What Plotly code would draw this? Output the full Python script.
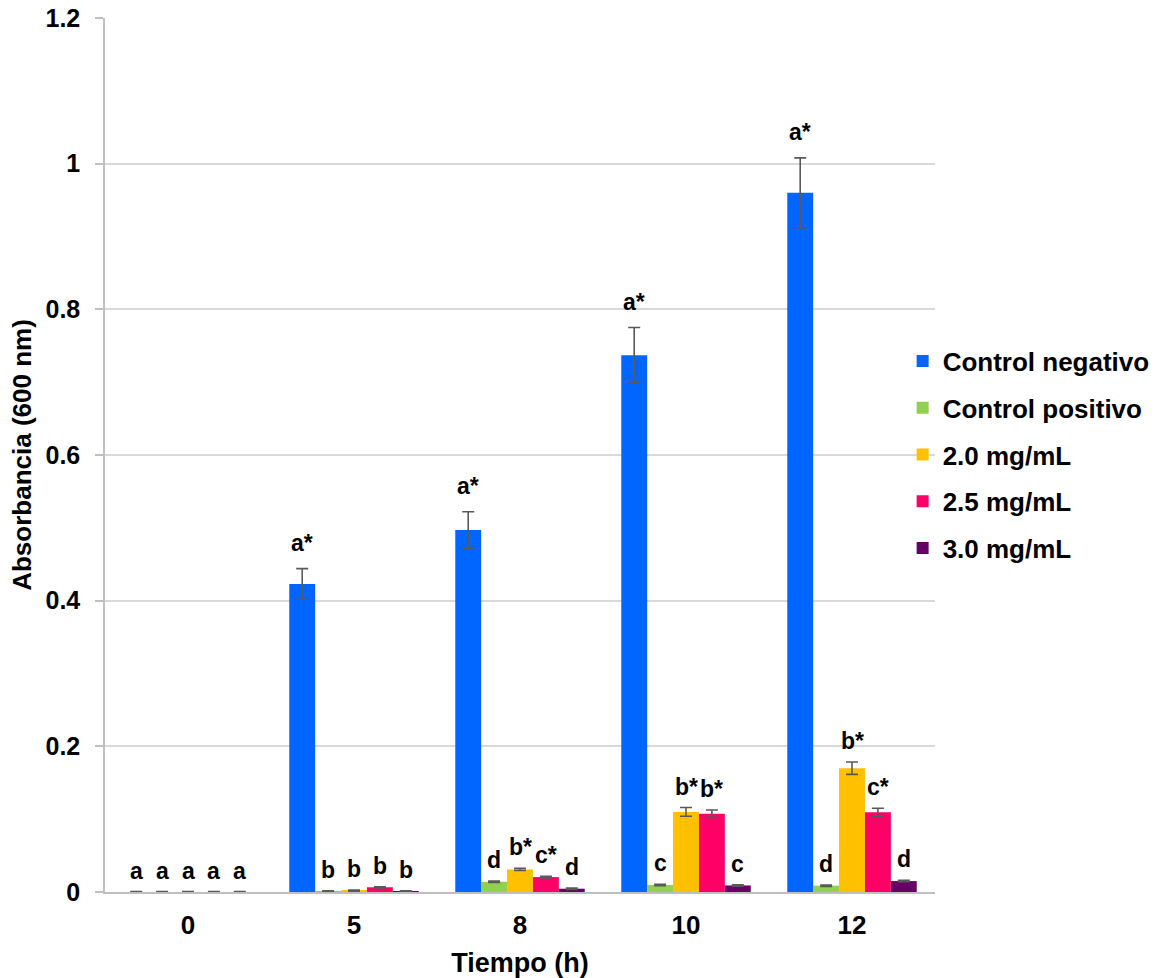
import plotly.graph_objects as go

# Incubation times (h)
tiempos = ["0", "5", "8", "10", "12"]

series = ["Control negativo", "Control positivo", "2.0 mg/mL", "2.5 mg/mL", "3.0 mg/mL"]
colores = ["#0066FF", "#92D050", "#FFC000", "#FF0066", "#660066"]

# Mean absorbance at 600 nm for each treatment
control_negativo = [0.0, 0.423, 0.497, 0.737, 0.960]
control_positivo = [0.0, 0.001, 0.014, 0.0096, 0.0087]
conc_2_0 = [0.0, 0.002, 0.031, 0.110, 0.170]
conc_2_5 = [0.0, 0.0065, 0.0205, 0.1075, 0.1094]
conc_3_0 = [0.0, 0.001, 0.0045, 0.009, 0.015]

# Standard deviations
err_control_negativo = [0.0005, 0.021, 0.025, 0.038, 0.048]
err_control_positivo = [0.0005, 0.0005, 0.001, 0.001, 0.001]
err_2_0 = [0.0005, 0.0008, 0.0015, 0.006, 0.0085]
err_2_5 = [0.0005, 0.0008, 0.0012, 0.005, 0.0055]
err_3_0 = [0.0005, 0.0005, 0.001, 0.001, 0.001]

# Significance letters
letras_control_negativo = ["a", "a*", "a*", "a*", "a*"]
letras_control_positivo = ["a", "b", "d", "c", "d"]
letras_2_0 = ["a", "b", "b*", "b*", "b*"]
letras_2_5 = ["a", "b", "c*", "b*", "c*"]
letras_3_0 = ["a", "b", "d", "c", "d"]

valores = [control_negativo, control_positivo, conc_2_0, conc_2_5, conc_3_0]
errores = [err_control_negativo, err_control_positivo, err_2_0, err_2_5, err_3_0]
letras = [letras_control_negativo, letras_control_positivo, letras_2_0, letras_2_5, letras_3_0]

FONT = "Arial, Liberation Sans, sans-serif"
BARGAP = 0.22
n = len(series)
ancho = (1 - BARGAP) / n
xs = list(range(len(tiempos)))

fig = go.Figure()
for i, (nombre, color, vals, errs) in enumerate(zip(series, colores, valores, errores)):
    fig.add_trace(go.Bar(
        x=xs, y=vals, name=nombre, legendgroup=nombre,
        marker=dict(color=color, line=dict(width=0)),
        error_y=dict(type="data", array=errs, visible=True,
                     color="#595959", thickness=1.6, width=6),
    ))

annotations = []
for i in range(n):
    offset = (i - (n - 1) / 2) * ancho
    for j in xs:
        tope = valores[i][j] + errores[i][j]
        annotations.append(dict(
            x=j + offset, y=tope, xref="x", yref="y",
            text=f"<b>{letras[i][j]}</b>", showarrow=False,
            yanchor="middle", yshift=26 if (i == 0 and j > 0) else 21,
            font=dict(family=FONT, size=23, color="#000000"),
        ))

fig.update_layout(
    width=1159, height=978,
    margin=dict(l=105, r=224, t=18, b=86, autoexpand=False),
    paper_bgcolor="white", plot_bgcolor="white",
    barmode="group", bargap=BARGAP, bargroupgap=0,
    font=dict(family=FONT, size=25, color="#000000"),
    annotations=annotations,
    legend=dict(
        x=0.961, y=0.5, xanchor="left", yanchor="middle",
        bgcolor="rgba(255,255,255,0)",
        font=dict(family=FONT, size=26, color="#000000", weight="bold"),
        tracegroupgap=10, itemclick=False,
    ),
    xaxis=dict(
        tickmode="array", tickvals=xs, ticktext=[f"<b>{t}</b>" for t in tiempos],
        range=[-0.5, len(tiempos) - 0.5], automargin=False,
        showline=True, linecolor="#BFBFBF", linewidth=1.5,
        ticks="", showgrid=False, zeroline=False,
        ticklabelstandoff=9,
        tickfont=dict(family=FONT, size=26, color="#000000"),
        title=dict(text="<b>Tiempo (h)</b>", font=dict(family=FONT, size=27), standoff=14),
    ),
    yaxis=dict(
        range=[0, 1.2], tickmode="array", automargin=False,
        tickvals=[0, 0.2, 0.4, 0.6, 0.8, 1.0, 1.2],
        ticktext=["<b>0</b>", "<b>0.2</b>", "<b>0.4</b>", "<b>0.6</b>", "<b>0.8</b>", "<b>1</b>", "<b>1.2</b>"],
        showline=True, linecolor="#BFBFBF", linewidth=1.5,
        ticks="outside", ticklen=8, tickcolor="#BFBFBF", tickwidth=1.5,
        ticklabelstandoff=10,
        showgrid=True, gridcolor="#D9D9D9", gridwidth=1.5, zeroline=False,
        tickfont=dict(family=FONT, size=25, color="#000000"),
        title=dict(text="<b>Absorbancia (600 nm)</b>", font=dict(family=FONT, size=26), standoff=6),
    ),
)

fig.write_html("out.html")
